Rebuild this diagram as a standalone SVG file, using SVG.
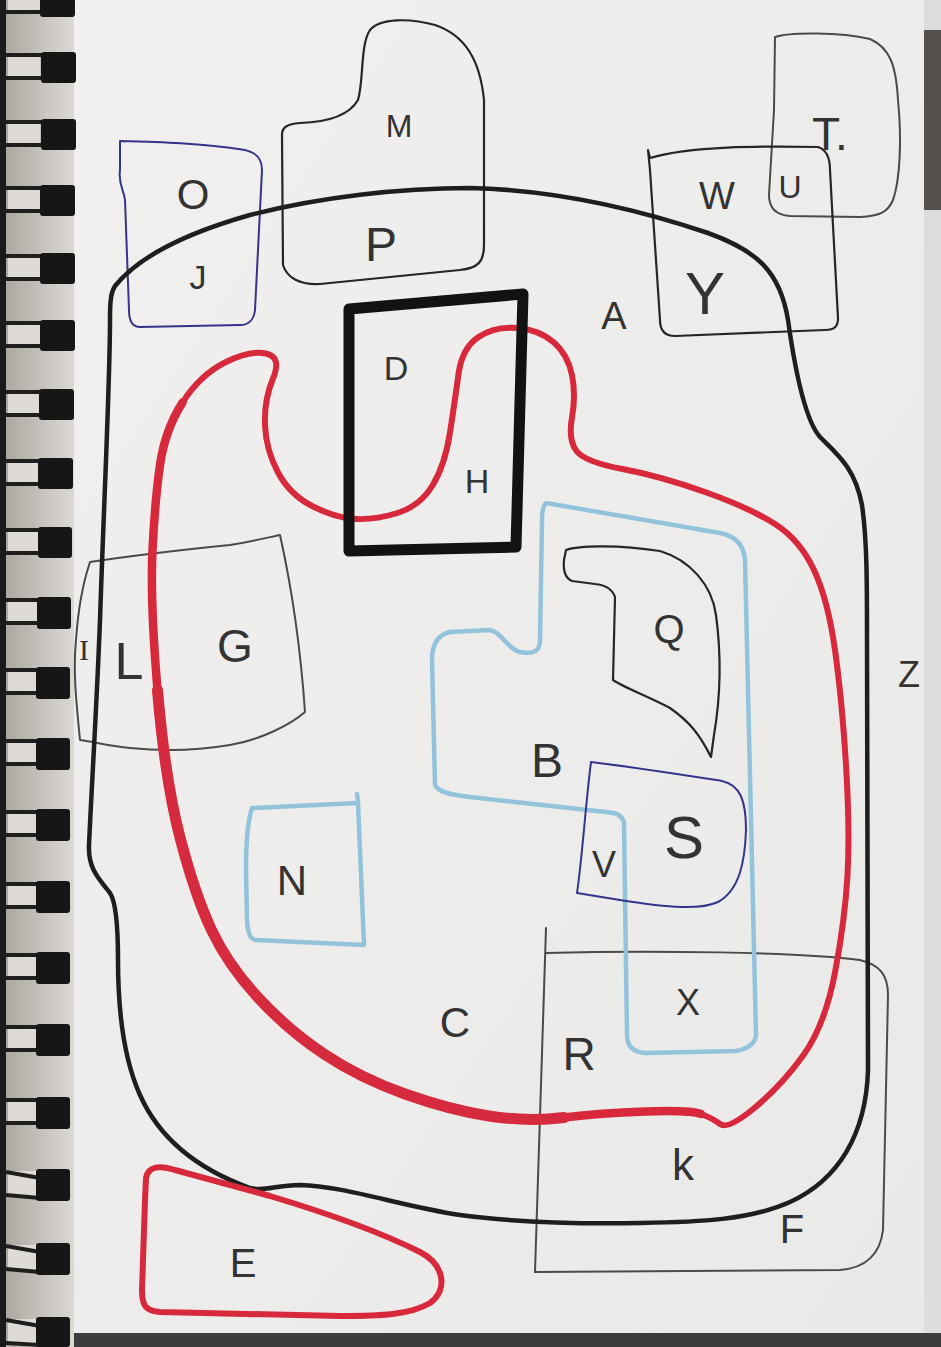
<svg xmlns="http://www.w3.org/2000/svg" width="941" height="1347" viewBox="0 0 941 1347">
<style>
  .pen { fill: none; stroke-linecap: round; stroke-linejoin: round; }
  .blk { stroke: #262626; stroke-width: 2.2; }
  .gry { stroke: #4a4a4a; stroke-width: 2; }
  .navy { stroke: #34348a; stroke-width: 2; }
  .lblue { stroke: #93c3da; stroke-width: 4.5; }
  .red { stroke: #d8283c; stroke-width: 6; }
  .lbl { font-family: "Liberation Sans", Arial, sans-serif; fill: #333333; text-anchor: middle; }
  .ring { fill: #161616; }
  .hl { fill: #dedbd6; }
  .wire { stroke: #1e1e1e; stroke-width: 4; fill: none; }
</style>
<defs>
  <linearGradient id="bindg" x1="0" y1="0" x2="1" y2="0">
    <stop offset="0" stop-color="#a9a39c"/>
    <stop offset="1" stop-color="#dcd9d5"/>
  </linearGradient>
  <linearGradient id="pageg" x1="0" y1="0" x2="1" y2="1">
    <stop offset="0" stop-color="#f1f0ee"/>
    <stop offset="1" stop-color="#e9e9e8"/>
  </linearGradient>
</defs>

<g id="background">
  <rect x="0" y="0" width="941" height="1347" fill="#dcdcdc"/>
  <rect x="920" y="30" width="21" height="180" fill="#55504b"/>
  <rect x="40" y="0" width="884" height="1333" fill="url(#pageg)"/>
  <rect x="0" y="1333" width="941" height="14" fill="#3c3c3c"/>
  <rect x="0" y="0" width="74" height="1347" fill="url(#bindg)"/>
  <rect x="0" y="0" width="6" height="1347" fill="#1a1a1a"/>
</g>

<g id="binding">
  <g id="ring-1"><rect class="hl" x="8" y="-12" width="32" height="26"/><line class="wire" x1="6" y1="-12" x2="44" y2="-12"/><line class="wire" x1="6" y1="12" x2="44" y2="12"/><rect class="ring" x="40" y="-14" width="35" height="31" rx="3"/></g>
  <g id="ring0"><rect class="hl" x="8" y="54" width="32" height="26"/><line class="wire" x1="6" y1="55" x2="44" y2="55"/><line class="wire" x1="6" y1="78" x2="44" y2="78"/><rect class="ring" x="41" y="52" width="35" height="31" rx="3"/></g>
  <g id="ring1"><rect class="hl" x="8" y="121" width="32" height="26"/><line class="wire" x1="6" y1="122" x2="44" y2="122"/><line class="wire" x1="6" y1="145" x2="44" y2="145"/><rect class="ring" x="41" y="119" width="35" height="31" rx="3"/></g>
  <g id="ring2"><rect class="hl" x="8" y="187" width="32" height="26"/><line class="wire" x1="6" y1="188" x2="44" y2="188"/><line class="wire" x1="6" y1="211" x2="44" y2="211"/><rect class="ring" x="40" y="185" width="35" height="31" rx="3"/></g>
  <g id="ring3"><rect class="hl" x="8" y="255" width="32" height="26"/><line class="wire" x1="6" y1="256" x2="44" y2="256"/><line class="wire" x1="6" y1="279" x2="44" y2="279"/><rect class="ring" x="40" y="253" width="35" height="31" rx="3"/></g>
  <g id="ring4"><rect class="hl" x="8" y="322" width="32" height="26"/><line class="wire" x1="6" y1="323" x2="44" y2="323"/><line class="wire" x1="6" y1="346" x2="44" y2="346"/><rect class="ring" x="40" y="320" width="35" height="31" rx="3"/></g>
  <g id="ring5"><rect class="hl" x="8" y="391" width="32" height="26"/><line class="wire" x1="6" y1="392" x2="44" y2="392"/><line class="wire" x1="6" y1="415" x2="44" y2="415"/><rect class="ring" x="39" y="389" width="35" height="31" rx="3"/></g>
  <g id="ring6"><rect class="hl" x="8" y="460" width="30" height="26"/><line class="wire" x1="6" y1="461" x2="42" y2="461"/><line class="wire" x1="6" y1="484" x2="42" y2="484"/><rect class="ring" x="38" y="458" width="35" height="31" rx="3"/></g>
  <g id="ring7"><rect class="hl" x="8" y="529" width="30" height="26"/><line class="wire" x1="6" y1="530" x2="42" y2="530"/><line class="wire" x1="6" y1="553" x2="42" y2="553"/><rect class="ring" x="38" y="527" width="34" height="31" rx="3"/></g>
  <g id="ring8"><rect class="hl" x="8" y="599" width="30" height="26"/><line class="wire" x1="6" y1="600" x2="42" y2="600"/><line class="wire" x1="6" y1="623" x2="42" y2="623"/><rect class="ring" x="37" y="597" width="34" height="32" rx="3"/></g>
  <g id="ring9"><rect class="hl" x="8" y="669" width="30" height="26"/><line class="wire" x1="6" y1="670" x2="40" y2="670"/><line class="wire" x1="6" y1="693" x2="40" y2="693"/><rect class="ring" x="36" y="667" width="34" height="32" rx="3"/></g>
  <g id="ring10"><rect class="hl" x="8" y="740" width="30" height="26"/><line class="wire" x1="6" y1="741" x2="40" y2="741"/><line class="wire" x1="6" y1="764" x2="40" y2="764"/><rect class="ring" x="36" y="738" width="34" height="32" rx="3"/></g>
  <g id="ring11"><rect class="hl" x="8" y="811" width="30" height="26"/><line class="wire" x1="6" y1="812" x2="40" y2="812"/><line class="wire" x1="6" y1="835" x2="40" y2="835"/><rect class="ring" x="36" y="809" width="34" height="32" rx="3"/></g>
  <g id="ring12"><rect class="hl" x="8" y="883" width="30" height="26"/><line class="wire" x1="6" y1="884" x2="40" y2="884"/><line class="wire" x1="6" y1="907" x2="40" y2="907"/><rect class="ring" x="36" y="881" width="34" height="32" rx="3"/></g>
  <g id="ring13"><rect class="hl" x="8" y="954" width="30" height="26"/><line class="wire" x1="6" y1="955" x2="40" y2="955"/><line class="wire" x1="6" y1="978" x2="40" y2="978"/><rect class="ring" x="36" y="952" width="34" height="32" rx="3"/></g>
  <g id="ring14"><rect class="hl" x="8" y="1026" width="30" height="26"/><line class="wire" x1="6" y1="1027" x2="40" y2="1027"/><line class="wire" x1="6" y1="1050" x2="40" y2="1050"/><rect class="ring" x="36" y="1024" width="34" height="32" rx="3"/></g>
  <g id="ring15"><rect class="hl" x="8" y="1099" width="30" height="26"/><line class="wire" x1="6" y1="1100" x2="40" y2="1100"/><line class="wire" x1="6" y1="1123" x2="40" y2="1123"/><rect class="ring" x="36" y="1097" width="34" height="32" rx="3"/></g>
  <g id="ring16"><rect class="hl" x="8" y="1171" width="30" height="26"/><line class="wire" x1="6" y1="1172" x2="40" y2="1178"/><line class="wire" x1="6" y1="1195" x2="40" y2="1198"/><rect class="ring" x="36" y="1169" width="34" height="32" rx="3"/></g>
  <g id="ring17"><rect class="hl" x="8" y="1245" width="30" height="26"/><line class="wire" x1="6" y1="1246" x2="40" y2="1252"/><line class="wire" x1="6" y1="1269" x2="40" y2="1272"/><rect class="ring" x="36" y="1243" width="34" height="32" rx="3"/></g>
  <g id="ring18"><rect class="hl" x="8" y="1319" width="30" height="24"/><line class="wire" x1="6" y1="1320" x2="40" y2="1326"/><line class="wire" x1="6" y1="1343" x2="40" y2="1345"/><rect class="ring" x="36" y="1317" width="34" height="30" rx="3"/></g>
</g>

<g id="node-MP">
  <path class="pen blk" d="M 282,135 C 282,128 286,124 300,123 C 330,122 350,114 358,100 C 364,80 360,45 370,30 C 380,18 410,18 435,25 C 465,35 480,60 484,100 L 484,245 C 484,262 478,268 460,270 L 320,284 C 300,285 287,278 283,265 Z"/>
  <text class="lbl" x="399" y="137" font-size="32">M</text>
  <text class="lbl" x="381" y="261" font-size="48">P</text>
</g>

<g id="node-OJ">
  <path class="pen navy" d="M 120,141 C 160,142 200,143 245,150 C 258,153 262,160 262,170 L 255,310 C 254,320 248,325 240,325 L 140,327 C 132,327 129,320 129,310 L 125,200 C 124,190 118,185 120,170 Z"/>
  <text class="lbl" x="193" y="209" font-size="42">O</text>
  <text class="lbl" x="198" y="289" font-size="34">J</text>
</g>

<g id="node-TU">
  <path class="pen gry" d="M 775,37 C 790,32 840,32 870,39 C 890,48 896,65 898,100 C 902,140 900,180 893,200 C 888,212 880,216 860,217 L 790,216 C 775,215 769,207 769,195 L 774,110 Z"/>
  <text class="lbl" x="830" y="150" font-size="46">T.</text>
  <text class="lbl" x="790" y="198" font-size="32">U</text>
</g>

<g id="node-WY">
  <path class="pen blk" d="M 648,150 L 650,158 C 690,146 760,146 818,147 C 828,150 830,160 830,170 L 838,318 C 838,326 835,330 825,330 L 675,336 C 665,336 660,330 660,320 L 650,170 Z"/>
  <text class="lbl" x="717" y="209" font-size="38">W</text>
  <text class="lbl" x="705" y="314" font-size="60">Y</text>
</g>

<g id="node-G">
  <path class="pen gry" d="M 90,562 C 130,556 180,550 230,545 C 255,541 270,537 280,535 C 290,580 300,640 305,712 C 290,725 260,740 230,745 C 200,750 170,752 130,748 C 110,746 95,742 80,740 C 76,700 73,670 76,640 C 78,610 84,580 90,562 Z"/>
  <text x="84" y="660" font-size="30" font-family="Liberation Serif, serif" fill="#333333" text-anchor="middle">I</text>
  <text class="lbl" x="129" y="679" font-size="52">L</text>
  <text class="lbl" x="235" y="662" font-size="46">G</text>
</g>

<g id="node-F">
  <path class="pen gry" d="M 546,928 L 535,1272"/>
  <path class="pen gry" d="M 546,953 C 650,950 800,952 860,960 C 880,965 888,975 888,995 L 883,1230 C 880,1255 865,1268 840,1270 L 535,1272"/>
  <text class="lbl" x="792" y="1243" font-size="40">F</text>
</g>

<g id="node-Z">
  <path class="pen" stroke="#1e1e1e" stroke-width="4.5" d="M 115,286 C 140,255 190,232 250,215 C 320,197 400,188 470,188 C 560,190 640,210 708,233 C 755,250 780,270 788,320 C 795,370 805,420 820,437 C 838,455 855,468 862,505 C 867,540 867,580 867,640 L 868,1070 C 866,1135 838,1180 790,1202 C 750,1220 700,1222 640,1223 C 580,1224 520,1223 460,1215 C 400,1206 345,1186 300,1185 C 275,1185 265,1192 250,1188 C 200,1170 160,1140 140,1095 C 122,1055 118,1000 118,960 C 118,925 116,902 110,893 C 98,878 88,868 89,845 C 92,780 97,700 100,620 C 104,500 110,380 110,320 C 110,300 111,292 115,286 Z"/>
  <text class="lbl" x="614" y="329" font-size="38">A</text>
  <text class="lbl" x="909" y="687" font-size="36">Z</text>
  <text class="lbl" x="683" y="1180" font-size="44">k</text>
  <text class="lbl" x="579" y="1070" font-size="46">R</text>
</g>

<g id="node-C">
  <path class="pen red" d="M 266,353.5 Q 282,357 273,378.5 Q 264,400 265,425 Q 266,450 278,472.5 Q 290,495 313,506.5 Q 336,518 355.5,519 Q 375,520 397.5,513 Q 420,506 432.5,485.5 Q 445,465 450,432.5 Q 455,400 458.5,374 Q 462,348 478.5,337 Q 495,326 517.5,328 Q 540,330 554,342.5 Q 568,355 572,375 Q 576,395 572,417.5 Q 568,440 576.5,451 Q 585,462 622.5,469 Q 660,476 705,492 Q 750,508 775,524 Q 800,540 814,570 Q 828,600 835,650 Q 842,700 846,765 Q 850,830 847.5,875 Q 845,920 835,972.5 Q 825,1025 803.5,1055 Q 782,1085 755,1107.5 Q 728,1130 720,1124 Q 712,1118 701,1114 Q 690,1110 645,1111.5 Q 600,1113 564,1117.5 Q 528,1122 489,1116 Q 450,1110 405,1094 Q 360,1078 324,1054 Q 288,1030 258,997.5 Q 228,965 211.5,930 Q 195,895 180,837.5 Q 165,780 157.5,690 Q 150,600 152.5,550 Q 155,500 160,465 Q 165,430 182.5,402.5 Q 200,375 225,362.5 Q 250,350 266,353.5 Z"/>
  <path class="pen" stroke="#d8283c" stroke-width="8.5" d="M 182.5,402.5 Q 165,430 160,465 Q 155,500 152.5,550 Q 150,600 157.5,690 Q 165,780 180,837.5 Q 195,895 211.5,930 Q 228,965 258,997.5 Q 288,1030 324,1054 Q 360,1078 405,1094 Q 450,1110 489,1116 Q 528,1122 564,1117.5 Q 600,1113 645,1111.5 Q 690,1110 701,1114"/>
  <path class="pen" stroke="#d62a3e" stroke-width="11" d="M 157.5,690 Q 165,780 180,837.5 Q 195,895 211.5,930 Q 228,965 258,997.5 Q 288,1030 324,1054 Q 360,1078 405,1094 Q 450,1110 489,1116 Q 528,1122 564,1117.5"/>
  <text class="lbl" x="455" y="1037" font-size="42">C</text>
</g>

<g id="node-DH">
  <path class="pen" stroke="#121212" stroke-width="11" stroke-linejoin="miter" d="M 349,309 L 523,294 L 516,547 L 349,551 Z"/>
  <text class="lbl" x="396" y="380" font-size="34">D</text>
  <text class="lbl" x="477" y="493" font-size="34">H</text>
</g>

<g id="node-B">
  <path class="pen lblue" d="M 546,503 L 720,533 C 735,536 744,545 745,560 L 756,1035 C 755,1045 745,1050 735,1051 L 645,1053 C 632,1052 627,1045 627,1035 L 624,822 C 621,814 616,813 606,812 L 470,797 C 450,795 438,792 435,785 L 432,660 C 432,645 437,635 450,632 L 490,630 C 502,632 506,648 520,652 C 535,655 540,650 540,640 L 542,520 C 542,508 544,505 546,503 Z"/>
  <text class="lbl" x="547" y="777" font-size="48">B</text>
  <text class="lbl" x="688" y="1015" font-size="36">X</text>
</g>

<g id="node-N">
  <path class="pen lblue" d="M 252,808 C 300,806 340,804 358,803 L 357,794 M 358,803 L 364,945 L 256,940 C 250,940 247,930 247,920 L 246,870 C 246,840 248,820 252,808 Z"/>
  <text class="lbl" x="292" y="895" font-size="42">N</text>
</g>

<g id="node-Q">
  <path class="pen blk" d="M 566,550 C 580,545 620,545 660,551 C 690,560 712,585 716,615 C 722,660 720,700 714,735 L 711,757 C 700,735 690,722 670,708 C 645,695 625,688 613,680 L 615,597 C 612,588 605,585 595,584 L 572,581 C 565,578 563,570 564,560 Z"/>
  <text class="lbl" x="669" y="643" font-size="40">Q</text>
</g>

<g id="node-S">
  <path class="pen navy" d="M 591,762 C 640,768 690,776 722,781 C 740,785 746,800 746,830 C 745,860 740,890 718,902 C 700,910 670,908 620,900 L 577,893 C 582,860 586,800 591,762 Z"/>
  <text class="lbl" x="684" y="858" font-size="60">S</text>
  <text class="lbl" x="604" y="877" font-size="36">V</text>
</g>

<g id="node-E">
  <path class="pen red" d="M 146,1178 C 148,1166 160,1165 175,1170 L 270,1196 C 330,1214 380,1232 420,1252 C 445,1265 448,1290 430,1303 C 410,1315 380,1316 340,1316 L 160,1312 C 145,1311 142,1305 142,1290 L 145,1200 Z"/>
  <text class="lbl" x="243" y="1277" font-size="40">E</text>
</g>
</svg>
